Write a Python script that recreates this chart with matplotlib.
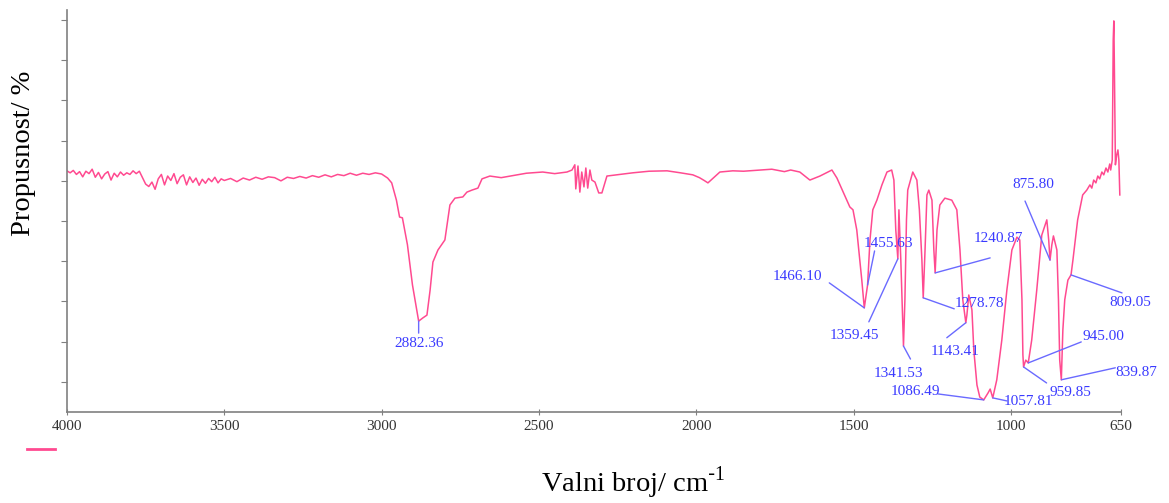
import numpy as np
import matplotlib.pyplot as plt

plt.rcParams['font.family'] = 'Liberation Serif'

# FTIR spectrum, wavenumber in cm-1 and transmittance in %
wavenumber = [
    4000, 3990, 3980, 3970, 3960, 3950, 3940, 3930, 3920, 3910,
    3900, 3890, 3880, 3870, 3860, 3850, 3840, 3830, 3820, 3810,
    3800, 3790, 3780, 3770, 3760, 3750, 3740, 3730, 3720, 3710,
    3700, 3690, 3680, 3670, 3660, 3650, 3640, 3630, 3620, 3610,
    3600, 3590, 3580, 3570, 3560, 3550, 3540, 3530, 3520, 3510,
    3500, 3480, 3460, 3440, 3420, 3400, 3380, 3360, 3340, 3320,
    3300, 3280, 3260, 3240, 3220, 3200, 3180, 3160, 3140, 3120,
    3100, 3080, 3060, 3040, 3020, 3000,
    2981, 2968, 2953, 2943, 2934, 2918, 2902, 2882.36, 2869, 2856,
    2846, 2837, 2821, 2799, 2783, 2767, 2742, 2729, 2713, 2694,
    2681, 2656, 2620, 2570, 2540, 2488, 2450, 2411, 2395,
    2386, 2383, 2376, 2370, 2364, 2357, 2351, 2345, 2338, 2332,
    2322, 2310, 2300, 2284, 2202, 2150, 2093, 2050, 2011, 1990,
    1975, 1963, 1925, 1884, 1850, 1798, 1760, 1720, 1700, 1671,
    1639, 1607, 1569, 1553, 1512, 1502, 1490, 1474, 1466.10, 1455.63,
    1448, 1439, 1426, 1410, 1394, 1379, 1372, 1366, 1359.45, 1356,
    1350, 1341.53, 1337, 1332, 1328, 1312, 1299, 1291, 1283, 1278.78,
    1273, 1267, 1261, 1251, 1245, 1240.87, 1235, 1226, 1210, 1188,
    1172, 1162, 1153, 1143.41, 1140, 1134, 1124, 1118, 1108, 1099,
    1086.49, 1073, 1066, 1057.81, 1045, 1029, 1013, 997, 981, 972,
    965, 962, 959.85, 953, 945.00, 934, 918, 902, 886, 880,
    875.80, 870, 865, 854, 849, 845, 839.87, 835, 829, 819,
    809.05, 803, 788, 772, 759, 749, 743, 737, 730, 724,
    718, 711, 705, 698, 692, 686, 683, 678, 675, 673,
    671.5, 668, 664, 660, 657, 654,
]
transmittance = [
    62.5, 62.0, 62.6, 61.6, 62.3, 61.0, 62.4, 61.8, 62.9, 60.9,
    62.1, 60.5, 61.7, 62.3, 60.2, 61.9, 61.0, 62.2, 61.4, 62.0,
    61.6, 62.5, 61.8, 62.4, 60.8, 59.2, 58.6, 59.7, 57.9, 60.5,
    61.6, 59.0, 61.2, 60.1, 61.8, 59.3, 60.9, 61.5, 59.0, 61.0,
    59.6, 60.7, 58.9, 60.4, 59.4, 60.6, 59.8, 60.9, 59.5, 60.5,
    60.1, 60.6, 59.8, 60.7, 60.2, 60.9, 60.4, 61.0, 60.8, 60.0,
    60.9, 60.6, 61.1, 60.7, 61.3, 60.9, 61.5, 61.0, 61.6, 61.3,
    61.9, 61.4, 61.9, 61.6, 62.0, 61.7,
    60.7, 59.5, 55.2, 51.0, 50.8, 44.1, 34.1, 25.1, 25.9, 26.6,
    32.8, 39.8, 42.8, 45.3, 54.0, 55.7, 56.0, 57.2, 57.7, 58.2,
    60.5, 61.2, 60.8, 61.5, 61.9, 62.2, 61.8, 62.2, 62.7,
    64.0, 58.0, 63.7, 57.2, 62.2, 58.5, 63.2, 58.2, 62.7, 60.2,
    59.7, 57.0, 57.0, 61.2, 62.0, 62.4, 62.5, 62.0, 61.5, 60.8,
    60.1, 59.5, 62.2, 62.5, 62.4, 62.7, 62.9, 62.3, 62.7, 62.2,
    60.2, 61.2, 62.7, 60.7, 53.5, 52.8, 47.8, 35.3, 28.4, 34.1,
    45.3, 52.8, 55.2, 59.0, 62.2, 62.7, 60.2, 47.8, 40.6, 52.8,
    40.3, 18.9, 30.4, 50.3, 57.7, 62.2, 60.2, 52.8, 40.3, 30.9,
    42.8, 56.5, 57.7, 55.2, 42.8, 37.1, 47.8, 54.0, 55.7, 55.2,
    52.8, 42.8, 30.4, 24.7, 26.6, 31.6, 27.9, 17.9, 9.2, 6.2,
    5.5, 7.2, 8.2, 6.0, 10.5, 20.4, 32.8, 42.8, 46.0, 45.3,
    30.4, 16.7, 13.7, 15.4, 14.7, 20.4, 32.8, 46.5, 50.3, 45.3,
    40.3, 44.1, 46.3, 42.8, 30.4, 15.4, 10.5, 22.9, 30.4, 35.3,
    36.6, 40.3, 50.3, 56.5, 57.7, 59.0, 58.2, 60.2, 59.5, 61.2,
    60.5, 62.2, 61.5, 63.2, 62.2, 64.2, 62.7, 65.2, 95.0, 99.8,
    90.1, 64.0, 66.4, 67.7, 65.2, 56.5,
]

# labelled bands
peak_wn = [2882.36, 1466.10, 1455.63, 1359.45, 1341.53, 1278.78, 1240.87,
           1143.41, 1086.49, 1057.81, 959.85, 945.00, 875.80, 839.87, 809.05]
# leader end and label centre, pixels from the band (x right, y up)
leader_end = [(0, -12), (-35, 25), (7, 34), (-29, -63), (7, -13), (31, -11),
              (55, 15), (-19, -15), (-46, 6), (14, -3), (23, -16), (53, 21),
              (-25, 59), (54, 12), (51, -18)]
label_pos = [(0, -22), (-67, 31), (21, 41), (-43, -77), (-5, -27), (56, -6),
             (63, 34), (-11, -29), (-68, 8), (36, -4), (47, -26), (75, 26),
             (-17, 76), (75, 7), (59, -28)]

x_ticks = [4000, 3500, 3000, 2500, 2000, 1500, 1000, 650]

fig = plt.figure(figsize=(11.69, 5.03), dpi=100)
ax = fig.add_axes([0.0573, 0.181, 0.9017, 0.799])

line, = ax.plot(wavenumber, transmittance, color='#ff4a90', lw=1.1)

ax.set_xlim(4000, 650)
ax.set_ylim(2.5, 102.5)
ax.set_xticks(x_ticks)
ax.set_xticklabels([str(t) for t in x_ticks])
ax.set_yticks(np.arange(10, 101, 10))
ax.tick_params(axis='y', direction='out', length=4, color='#808080',
               labelleft=False)
ax.tick_params(axis='x', direction='inout', length=4, color='#808080',
               labelsize=11, labelcolor='#333333', pad=4)
for side in ['top', 'right']:
    ax.spines[side].set_visible(False)
for side in ['left', 'bottom']:
    ax.spines[side].set_color('#808080')
    ax.spines[side].set_linewidth(1.2)

wn_sorted = np.array(wavenumber)[::-1]
t_sorted = np.array(transmittance)[::-1]
for w, end, pos in zip(peak_wn, leader_end, label_pos):
    t = np.interp(w, wn_sorted, t_sorted)
    ax.annotate('', xy=(w, t), xytext=end, textcoords='offset pixels',
                arrowprops=dict(arrowstyle='-', color='#6a6aff', lw=1.0,
                                shrinkA=0, shrinkB=0),
                annotation_clip=False)
    ax.annotate('{:.2f}'.format(w), xy=(w, t), xytext=pos,
                textcoords='offset pixels', ha='center', va='center',
                color='#3a3aff', fontsize=11, annotation_clip=False)

fig.text(0.0197, 0.695, 'Propusnost/ %', rotation=90, ha='center',
         va='center', fontsize=20.5)
fig.text(0.5415, 0.04, r'Valni broj/ cm$^{\mathregular{\text{-}1}}$',
         ha='center', va='center', fontsize=20.5)

leg = fig.legend([line], [''], loc='center left', bbox_to_anchor=(0.023, 0.105),
                 frameon=False, handlelength=2.0, borderpad=0,
                 borderaxespad=0, fontsize=10)
leg.legend_handles[0].set_linewidth(2)

fig.savefig('out.png', dpi=100)
